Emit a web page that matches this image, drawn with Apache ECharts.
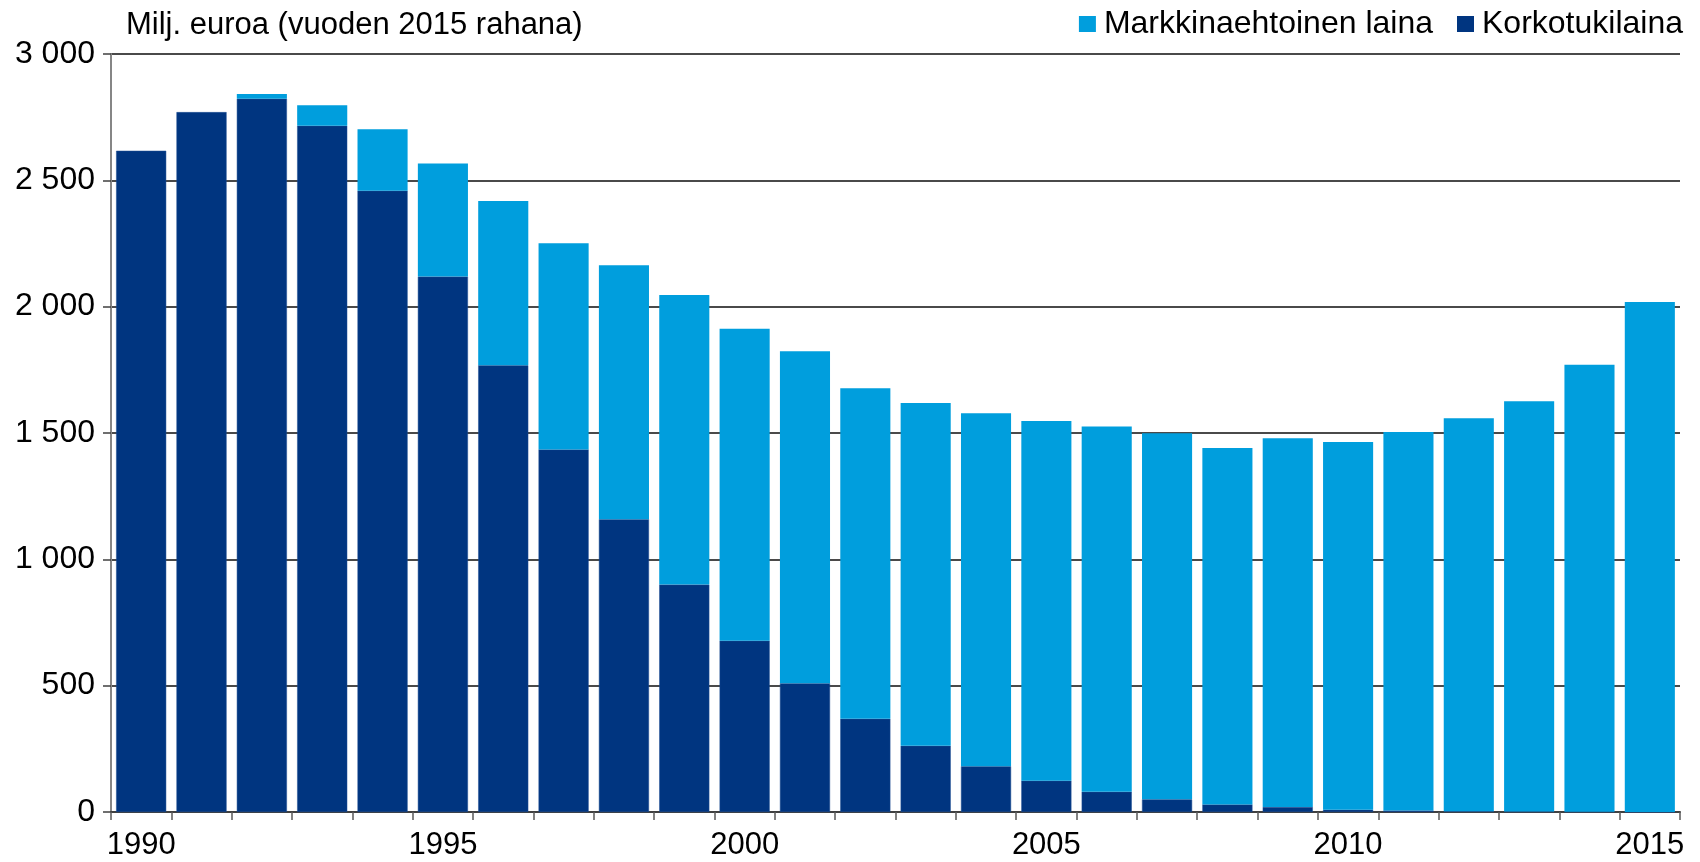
<!DOCTYPE html>
<html>
<head>
<meta charset="utf-8">
<script src="https://cdn.jsdelivr.net/npm/echarts@6/dist/echarts.min.js"></script>
<style>
html,body{margin:0;padding:0;background:#fff;}
#chart{width:1700px;height:862px;}
</style>
</head>
<body>
<div id="chart"></div>
<script>
var years = ['1990','1991','1992','1993','1994','1995','1996','1997','1998','1999','2000','2001','2002','2003','2004','2005','2006','2007','2008','2009','2010','2011','2012','2013','2014','2015'];
var korkotukilaina = [2617,2770,2823,2716,2459,2119,1768,1435,1159,900,678,510,369,262,181,124,80,50,30,20,9,6,3,2,1,0];
var markkinaehtoinen = [0,0,19,81,243,448,650,816,1005,1146,1235,1314,1308,1357,1397,1423,1446,1449,1411,1459,1455,1498,1555,1624,1769,2018];
var yTicks = [0,500,1000,1500,2000,2500,3000];
var titleText = 'Milj. euroa (vuoden 2015 rahana)';
var nameMarkkina = 'Markkinaehtoinen laina';
var nameKorko = 'Korkotukilaina';

var FONT = "'Liberation Sans', Arial, sans-serif";
var FS = 32;
var chart = echarts.init(document.getElementById('chart'), null, {renderer:'canvas'});
chart.setOption({
  animation: false,
  backgroundColor: '#ffffff',
  textStyle: {fontFamily: FONT},
  title: {
    text: titleText,
    left: 126, top: 9, padding: 0,
    textStyle: {fontFamily: FONT, fontSize: 31, fontWeight: 'normal', color: '#000', lineHeight: 32}
  },
  legend: {
    data: [nameMarkkina, nameKorko],
    right: 17, top: 8, padding: 0,
    icon: 'rect', itemWidth: 17, itemHeight: 16, itemGap: 24,
    itemStyle: {borderWidth: 0},
    textStyle: {fontFamily: FONT, fontSize: FS, color: '#000', padding: [0,0,0,3], lineHeight: 32}
  },
  grid: {left: 111, right: 20, top: 54, bottom: 50, containLabel: false},
  xAxis: {
    type: 'category',
    data: years,
    boundaryGap: true,
    axisLine: {show: true, lineStyle: {color: '#404040', width: 2}},
    axisTick: {show: true, interval: 0, alignWithLabel: false, length: 8, lineStyle: {color: '#595959', width: 1.5}},
    axisLabel: {interval: 4, margin: 18, fontFamily: FONT, fontSize: 31, color: '#000'},
    splitLine: {show: false}
  },
  yAxis: {
    type: 'value',
    min: yTicks[0], max: yTicks[yTicks.length-1], interval: yTicks[1]-yTicks[0],
    axisLine: {show: true, lineStyle: {color: '#868686', width: 2}},
    axisTick: {show: true, length: 8, lineStyle: {color: '#404040', width: 1.5}},
    axisLabel: {margin: 16, fontFamily: FONT, fontSize: FS, color: '#000',
      formatter: function(v){ return String(v).replace(/\B(?=(\d{3})+(?!\d))/g, ' '); }},
    splitLine: {show: true, lineStyle: {color: '#4a4a4a', width: 1.8}}
  },
  series: [
    {
      name: nameKorko, type: 'bar', stack: 'total', data: korkotukilaina,
      barCategoryGap: '17%',
      itemStyle: {color: '#003580', borderColor: '#1f4f95', borderWidth: 0.5}
    },
    {
      name: nameMarkkina, type: 'bar', stack: 'total', data: markkinaehtoinen,
      barCategoryGap: '17%',
      itemStyle: {color: '#009edd', borderWidth: 0}
    }
  ]
});
</script>
</body>
</html>
